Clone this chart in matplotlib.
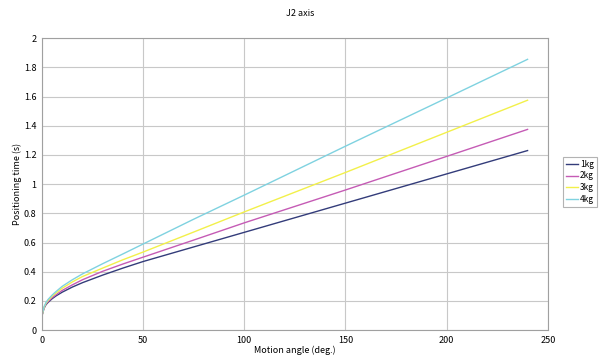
import matplotlib.pyplot as plt

plt.rcParams['font.family'] = ['Noto Sans CJK JP', 'DejaVu Sans']

# Motion angle (deg.)
angle = [0, 1, 2, 3, 5, 7, 10, 15, 20, 30, 40, 50, 75, 100, 150, 200, 240]

# Positioning time (s) per payload
t_1kg = [0.10, 0.15, 0.175, 0.19, 0.215, 0.235, 0.26, 0.295, 0.325, 0.377, 0.425, 0.47, 0.57, 0.67, 0.87, 1.07, 1.23]
t_2kg = [0.10, 0.15, 0.18, 0.195, 0.222, 0.243, 0.272, 0.31, 0.345, 0.403, 0.453, 0.50, 0.617, 0.735, 0.96, 1.19, 1.375]
t_3kg = [0.10, 0.155, 0.185, 0.203, 0.232, 0.255, 0.287, 0.33, 0.367, 0.425, 0.482, 0.535, 0.672, 0.81, 1.08, 1.355, 1.575]
t_4kg = [0.10, 0.16, 0.19, 0.21, 0.24, 0.265, 0.30, 0.345, 0.385, 0.455, 0.522, 0.59, 0.76, 0.925, 1.26, 1.59, 1.855]

labels = ['1kg', '2kg', '3kg', '4kg']
colors = ['#333c7a', '#c55bb5', '#f2f04a', '#7fd2e0']

fig = plt.figure(figsize=(6, 3.6), dpi=100)
ax = fig.add_axes([0.07, 0.083, 0.843, 0.811])

for ys, lab, c in zip([t_1kg, t_2kg, t_3kg, t_4kg], labels, colors):
    ax.plot(angle, ys, color=c, lw=1.0, label=lab)

ax.set_xlim(0, 250)
ax.set_ylim(0, 2)
ax.set_xticks(range(0, 251, 50))
ax.set_yticks([0, 0.2, 0.4, 0.6, 0.8, 1, 1.2, 1.4, 1.6, 1.8, 2])
ax.set_yticklabels(['0', '0.2', '0.4', '0.6', '0.8', '1', '1.2', '1.4', '1.6', '1.8', '2'])
ax.grid(True, color='#c8c8c8', lw=0.8)
ax.set_axisbelow(True)
for s in ax.spines.values():
    s.set_color('#a0a0a0')
ax.tick_params(length=0, labelsize=6.5, pad=4)

ax.set_xlabel('Motion angle (deg.)', fontsize=6.5, labelpad=1)
ax.set_ylabel('Positioning time (s)', fontsize=6.5)
ax.yaxis.set_label_coords(-0.04, 0.5)
fig.text(0.5, 0.955, 'J2 axis', ha='center', fontsize=6.5)

leg = fig.legend(loc='upper left', bbox_to_anchor=(0.938, 0.565), fontsize=6,
                 frameon=True, fancybox=False, handlelength=1.5, handletextpad=0.2,
                 borderpad=0.35, labelspacing=0.35, borderaxespad=0)
leg.get_frame().set_edgecolor('#a0a0a0')
leg.get_frame().set_linewidth(0.8)

fig.savefig('out.png', dpi=100)
